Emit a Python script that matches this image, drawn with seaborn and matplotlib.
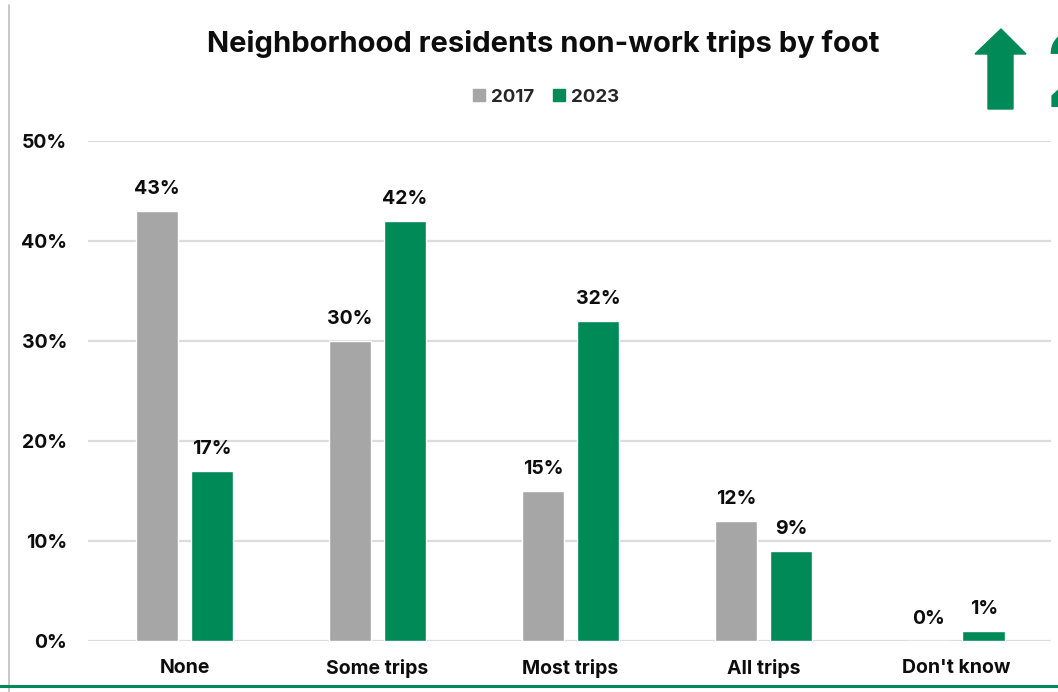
import matplotlib
matplotlib.use("Agg")
import matplotlib.pyplot as plt
from matplotlib.patches import Polygon, Circle
from matplotlib.lines import Line2D
import pandas as pd
import seaborn as sns

# Survey data: share of residents' non-work trips made on foot
categories = ["None", "Some trips", "Most trips", "All trips", "Don't know"]
years = ["2017", "2023"]
share_2017 = [43, 30, 15, 12, 0]
share_2023 = [17, 42, 32, 9, 1]
y_ticks = [0, 10, 20, 30, 40, 50]

GRAY = "#A6A6A6"
GREEN = "#008A57"
GRID = "#DCDCDC"
INK = "#0D0D0D"
FONT = ["Inter", "DejaVu Sans"]

df = pd.DataFrame({
    "category": categories * 2,
    "year": [years[0]] * len(categories) + [years[1]] * len(categories),
    "share": share_2017 + share_2023,
})

sns.set_theme(style="white")
plt.rcParams["font.family"] = FONT

W, H = 1058, 692
fig = plt.figure(figsize=(W / 100, H / 100), dpi=100)
ax = fig.add_axes([88 / W, (H - 641) / H, (1051 - 88) / W, 500 / H])

sns.barplot(data=df, x="category", y="share", hue="year", order=categories,
            hue_order=years, palette=[GRAY, GREEN], width=0.57, gap=0.22,
            saturation=1, legend=False, ax=ax)

for cont in ax.containers:
    ax.bar_label(cont, labels=[f"{v:.0f}%" for v in cont.datavalues],
                 padding=9, fontsize=14, fontweight="bold", color=INK)

ax.set_ylim(0, 50)
ax.set_xlim(-0.5, 4.49)
ax.set_yticks(y_ticks)
ax.set_yticklabels([f"{t}%" for t in y_ticks])
ax.yaxis.grid(True, color=GRID, linewidth=1.6)
ax.set_axisbelow(True)
for s in ax.spines.values():
    s.set_visible(False)
ax.tick_params(axis="y", length=0, pad=15, labelsize=14, labelcolor=INK)
ax.tick_params(axis="x", length=0, pad=13, labelsize=14, labelcolor=INK)
for lab in ax.get_xticklabels() + ax.get_yticklabels():
    lab.set_fontweight("bold")
ax.set_xlabel("")
ax.set_ylabel("")

# Title and legend
fig.text(543 / W, 1 - 44 / H, "Neighborhood residents non-work trips by foot",
         ha="center", va="center", fontsize=21, fontweight="bold", color=INK)
handles = [Line2D([], [], marker="s", linestyle="", markersize=8, color=c) for c in (GRAY, GREEN)]
fig.legend(handles, years, loc="center", bbox_to_anchor=(546 / W, 1 - 97 / H), ncol=2,
           frameon=False, handlelength=0.6, handletextpad=0.35, columnspacing=1.0,
           prop={"weight": "bold", "size": 13.5})

# Page framing: left rule, bottom green rule, and header ornaments
fig.add_artist(Line2D([9 / W, 9 / W], [0, 1 - 5 / H], color="#C4C4C4", linewidth=1.3))
fig.add_artist(Line2D([0, 1], [1 - 686 / H, 1 - 686 / H], color=GREEN, linewidth=2.2))

def px(x, y):
    return (x / W, 1 - y / H)

arrow = Polygon([px(1001, 29), px(1026, 54), px(1013, 54), px(1013, 109),
                 px(988, 109), px(988, 54), px(975, 54)],
                closed=True, transform=fig.transFigure, color=GREEN)
fig.add_artist(arrow)
fig.text(1044 / W, 1 - 107 / H, "2", ha="left", va="baseline", fontsize=76,
         fontweight="bold", color=GREEN)
fig.add_artist(Circle(px(316, -14), 17 / W, transform=fig.transFigure, color=GREEN))

fig.savefig("out.png", dpi=100, facecolor="white")
